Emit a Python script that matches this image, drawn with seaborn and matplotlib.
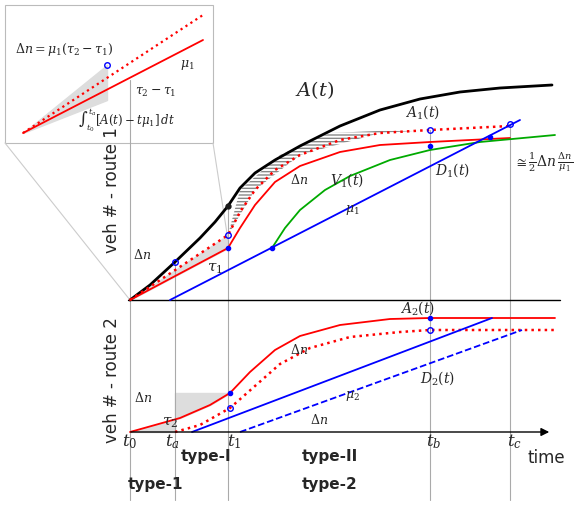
import numpy as np
import matplotlib
matplotlib.use("Agg")
import matplotlib.pyplot as plt
import seaborn as sns

sns.set_theme(style="white")
plt.rcParams['font.family'] = ['DejaVu Sans']
plt.rcParams['mathtext.fontset'] = 'dejavuserif'

# Curves (x = time position, y = cumulative count position, in picture units; y grows downward)
A_x = [130, 150, 175, 200, 215, 228, 240, 255, 275, 300, 340, 380, 420, 460, 500, 552]
A_y = [300, 285, 262, 238, 222, 206, 188, 173, 160, 146, 126, 110, 99, 92, 88, 85]
A1s_x = [130, 228, 240, 255, 275, 300, 340, 380, 430, 470, 510]
A1s_y = [300, 248, 228, 205, 182, 166, 152, 145, 142, 140, 138]
A1d_x = [130, 228, 240, 255, 275, 300, 340, 380, 430, 470, 510]
A1d_y = [300, 235, 212, 190, 170, 155, 140, 133, 130, 128, 126]
V1_x = [272, 285, 300, 325, 350, 390, 430, 480, 555]
V1_y = [248, 228, 210, 190, 176, 160, 150, 142, 135]
mu1_x = [170, 520]
mu1_y = [300, 120]
A2s_x = [130, 180, 210, 230, 250, 275, 300, 340, 390, 430, 555]
A2s_y = [432, 418, 405, 393, 372, 350, 336, 325, 319, 318, 318]
A2d_x = [175, 200, 230, 255, 280, 310, 350, 400, 430, 555]
A2d_y = [432, 425, 408, 386, 364, 348, 337, 332, 330, 330]
mu2_x = [192, 492]
mu2_y = [432, 318]
D2_x = [240, 522]
D2_y = [432, 330]
ins_d_x = [23, 203]
ins_d_y = [133, 15]
ins_s_x = [23, 203]
ins_s_y = [133, 40]

fig = plt.figure(figsize=(5.76, 5.08), dpi=100)
ax = fig.add_axes([0, 0, 1, 1])
ax.set_xlim(0, 576); ax.set_ylim(508, 0); ax.axis('off')

def line(x, y, **kw):
    sns.lineplot(x=x, y=y, ax=ax, sort=False, estimator=None, legend=False, **kw)

g = '#aaaaaa'
for xv, y0 in [(175, 262), (228, 206), (430, 130), (510, 124)]:
    ax.plot([xv, xv], [y0, 500], color=g, lw=0.8)
ax.plot([130, 130], [80, 500], color=g, lw=0.8)
# inset
ax.add_patch(plt.Rectangle((5, 5), 208, 138, fill=False, ec='#bbbbbb', lw=0.8))
ax.plot([5, 130], [143, 300], color='#cccccc', lw=0.8)
ax.plot([213, 228], [143, 240], color='#cccccc', lw=0.8)
ax.fill_between([23, 107], [133, 65], [133, 100], color='#dddddd')
line(ins_d_x, ins_d_y, color='red', linestyle=':', linewidth=1.6)
line(ins_s_x, ins_s_y, color='red', linewidth=1.3)
ax.plot([107], [65], 'o', mfc='none', mec='blue', ms=4)
ax.text(15, 50, r'$\Delta n=\mu_1(\tau_2-\tau_1)$', fontsize=9, va='center')
ax.text(180, 65, r'$\mu_1$', fontsize=9, va='center')
ax.text(135, 92, r'$\tau_2-\tau_1$', fontsize=9, va='center')
ax.text(78, 120, r'$\int_{t_0}^{t_a}[A(t)-t\mu_1]\,dt$', fontsize=8.5, va='center')

# hatch areas
ax.fill_between(A1d_x[:2], [300, 235], [300, 248], color='#dddddd')
ax.fill_betweenx([235, 190, 155, 133, 130], [228, 255, 300, 380, 430], [228, 240, 280, 330, 400],
                 facecolor='none', hatch='-----', edgecolor='#888888', lw=0)

# top panel
ax.plot([128, 560], [300, 300], color='black', lw=1)
line(A_x, A_y, color='black', linewidth=2)
line(A1s_x, A1s_y, color='red', linewidth=1.3)
line(A1d_x, A1d_y, color='red', linestyle=':', linewidth=1.8)
line(V1_x, V1_y, color='#00aa00', linewidth=1.3)
line(mu1_x, mu1_y, color='blue', linewidth=1.3)
ax.plot([228], [206], 'ko', ms=3.5)
ax.plot([228, 272, 430, 490], [248, 248, 146, 137], 'o', color='blue', ms=3)
ax.plot([175, 228, 430, 510], [262, 235, 130, 124], 'o', mfc='none', mec='blue', ms=4)
ax.text(295, 90, r'$A(t)$', fontsize=14, va='center')
ax.text(405, 112, r'$A_1(t)$', fontsize=10, va='center')
ax.text(330, 180, r'$V_1(t)$', fontsize=10, va='center')
ax.text(435, 170, r'$D_1(t)$', fontsize=10, va='center')
ax.text(345, 210, r'$\mu_1$', fontsize=9, va='center')
ax.text(290, 180, r'$\Delta n$', fontsize=9, va='center')
ax.text(133, 255, r'$\Delta n$', fontsize=9, va='center')
ax.text(207, 268, r'$\tau_1$', fontsize=11, va='center')
ax.text(514, 162, r'$\cong\frac{1}{2}\Delta n\,\frac{\Delta n}{\mu_1}$', fontsize=10, va='center')
ax.text(112, 190, 'veh # - route 1', rotation=90, ha='center', va='center', fontsize=12)

# bottom panel
ax.annotate('', xy=(552, 432), xytext=(128, 432), arrowprops=dict(arrowstyle='-|>', color='black', lw=1))
ax.fill_betweenx([432, 418, 405, 393], [175, 175, 175, 175], [130, 180, 210, 230], color='#dddddd')
line(A2s_x, A2s_y, color='red', linewidth=1.3)
line(A2d_x, A2d_y, color='red', linestyle=':', linewidth=1.8)
line(mu2_x, mu2_y, color='blue', linewidth=1.3)
line(D2_x, D2_y, color='blue', linestyle='--', linewidth=1.3)
ax.plot([230, 430], [393, 318], 'o', color='blue', ms=3)
ax.plot([230, 430], [408, 330], 'o', mfc='none', mec='blue', ms=4)
ax.text(400, 308, r'$A_2(t)$', fontsize=10, va='center')
ax.text(420, 378, r'$D_2(t)$', fontsize=10, va='center')
ax.text(345, 396, r'$\mu_2$', fontsize=9, va='center')
ax.text(290, 350, r'$\Delta n$', fontsize=9, va='center')
ax.text(310, 420, r'$\Delta n$', fontsize=9, va='center')
ax.text(134, 398, r'$\Delta n$', fontsize=9, va='center')
ax.text(162, 423, r'$\tau_2$', fontsize=11, va='center')
ax.text(112, 380, 'veh # - route 2', rotation=90, ha='center', va='center', fontsize=12)

for xv, lab in [(130, r'$t_0$'), (172, r'$t_a$'), (234, r'$t_1$'), (434, r'$t_b$'), (514, r'$t_c$')]:
    ax.text(xv, 442, lab, fontsize=12, ha='center', va='center')
ax.text(528, 458, 'time', fontsize=12, va='center')
ax.text(206, 457, 'type-I', fontsize=11, fontweight='bold', ha='center', va='center')
ax.text(330, 457, 'type-II', fontsize=11, fontweight='bold', ha='center', va='center')
ax.text(156, 484, 'type-1', fontsize=11, fontweight='bold', ha='center', va='center')
ax.text(330, 484, 'type-2', fontsize=11, fontweight='bold', ha='center', va='center')

fig.savefig('out.png', dpi=100)
